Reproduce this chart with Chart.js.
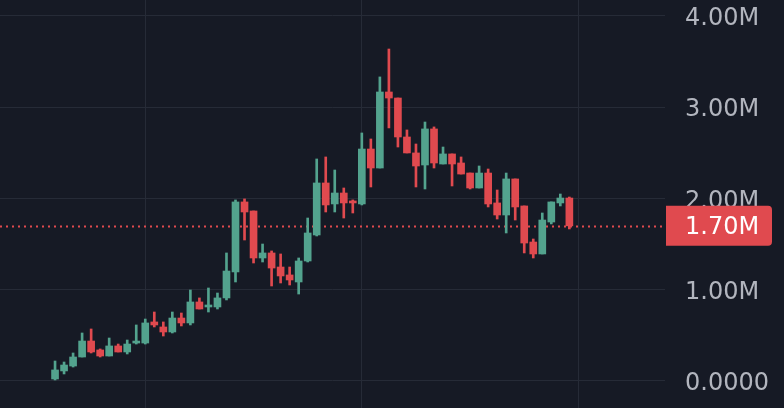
<!DOCTYPE html>
<html>
<head>
<meta charset="utf-8">
<script src="https://cdn.jsdelivr.net/npm/chart.js@4"></script>
<style>
  html, body { margin: 0; padding: 0; background: #161a25; }
  #wrap { width: 784px; height: 408px; }
</style>
</head>
<body>
<div id="wrap"><canvas id="priceChart" width="784" height="408"></canvas></div>
<script>
// OHLC values, in millions
const openData  = [0.022, 0.110, 0.164, 0.263, 0.438, 0.340, 0.274, 0.384, 0.318, 0.416,
                   0.416, 0.647, 0.592, 0.537, 0.690, 0.636, 0.866, 0.811, 0.811, 0.910,
                   1.195, 1.962, 1.863, 1.348, 1.403, 1.249, 1.162, 1.085, 1.315, 1.600,
                   2.170, 1.940, 2.060, 1.973, 1.940, 2.542, 2.334, 3.167, 3.101, 2.674,
                   2.499, 2.367, 2.762, 2.378, 2.488, 2.389, 2.279, 2.115, 2.279, 1.951,
                   1.819, 2.214, 1.918, 1.523, 1.392, 1.742, 1.951, 2.005];
const highData  = [0.219, 0.208, 0.307, 0.526, 0.570, 0.351, 0.471, 0.405, 0.449, 0.614,
                   0.679, 0.756, 0.647, 0.756, 0.745, 0.997, 0.910, 1.019, 0.964, 1.403,
                   1.984, 1.995, 1.863, 1.501, 1.425, 1.392, 1.249, 1.348, 1.786, 2.433,
                   2.455, 2.312, 2.115, 1.984, 2.718, 2.652, 3.332, 3.638, 3.101, 2.751,
                   2.597, 2.838, 2.784, 2.564, 2.488, 2.455, 2.279, 2.356, 2.323, 2.093,
                   2.279, 2.214, 1.918, 1.556, 1.841, 1.962, 2.049, 2.016];
const lowData   = [0.011, 0.077, 0.153, 0.263, 0.307, 0.263, 0.274, 0.318, 0.296, 0.405,
                   0.405, 0.592, 0.493, 0.526, 0.603, 0.614, 0.789, 0.756, 0.789, 0.888,
                   1.085, 1.545, 1.293, 1.304, 1.041, 1.074, 1.052, 0.953, 1.304, 1.589,
                   1.852, 1.852, 1.786, 1.841, 1.929, 2.126, 2.334, 2.773, 2.564, 2.499,
                   2.126, 2.104, 2.334, 2.378, 2.137, 2.268, 2.104, 2.115, 1.907, 1.775,
                   1.622, 1.764, 1.403, 1.348, 1.392, 1.721, 1.918, 1.666];
const closeData = [0.121, 0.175, 0.263, 0.438, 0.318, 0.274, 0.384, 0.318, 0.405, 0.438,
                   0.636, 0.614, 0.537, 0.690, 0.636, 0.866, 0.789, 0.833, 0.910, 1.205,
                   1.962, 1.852, 1.348, 1.403, 1.238, 1.151, 1.107, 1.315, 1.622, 2.170,
                   1.929, 2.060, 1.951, 1.951, 2.542, 2.334, 3.167, 3.101, 2.674, 2.499,
                   2.356, 2.762, 2.389, 2.488, 2.378, 2.268, 2.115, 2.279, 1.940, 1.819,
                   2.214, 1.907, 1.512, 1.392, 1.764, 1.962, 2.005, 1.700];

const lastPrice = 1.70;
const yTicks = [0, 1, 2, 3, 4];
const xGridAt = [11, 35, 59];

const upColor = '#53a38e';
const downColor = '#e04a4f';
const gridColor = '#262b37';
const labelColor = '#b2b5be';

function fmt(v) {
  return v === 0 ? '0.0000' : v.toFixed(2) + 'M';
}

const candleColors = closeData.map((c, i) => c >= openData[i] ? upColor : downColor);
const wicks = highData.map((h, i) => ({ x: i + 1, y: [lowData[i], h] }));
const bodies = openData.map((o, i) => ({
  x: i + 1,
  y: [Math.min(o, closeData[i]), Math.max(o, closeData[i])]
}));

const ctx = document.getElementById('priceChart').getContext('2d');

const priceChart = new Chart(ctx, {
  type: 'bar',
  data: {
    datasets: [
      {
        label: 'wick',
        data: wicks,
        backgroundColor: candleColors,
        barThickness: 2,
        grouped: false,
      },
      {
        label: 'body',
        data: bodies,
        backgroundColor: candleColors,
        barThickness: 7,
        minBarLength: 2,
        grouped: false,
      },
    ],
  },
  options: {
    responsive: false,
    animation: false,
    layout: { padding: 0 },
    scales: {
      x: {
        type: 'linear',
        min: -5.1,
        max: 68.6,
        offset: false,
        afterBuildTicks: (scale) => {
          scale.ticks = xGridAt.map(v => ({ value: v }));
        },
        ticks: { display: false },
        grid: { color: gridColor, drawTicks: false, offset: false },
        border: { display: false },
      },
      y: {
        position: 'right',
        min: -0.296,
        max: 4.175,
        afterBuildTicks: (scale) => {
          scale.ticks = yTicks.map(v => ({ value: v }));
        },
        afterFit: (scale) => {
          // fixed axis width, and no extra room reserved above/below for the labels
          scale.width = 119;
          scale.paddingTop = 0;
          scale.paddingBottom = 0;
        },
        ticks: {
          padding: 20,
          labelOffset: 3,
          color: labelColor,
          font: { family: 'DejaVu Sans', size: 24 },
          callback: (value) => fmt(value),
        },
        grid: { color: gridColor, drawTicks: false },
        border: { display: false },
      },
    },
    plugins: {
      legend: { display: false },
      tooltip: { enabled: false },
    },
  },
  plugins: [
    {
      id: 'background',
      beforeDraw: (chart) => {
        const c = chart.ctx;
        c.save();
        c.fillStyle = '#161a25';
        c.fillRect(0, 0, chart.width, chart.height);
        c.restore();
      }
    },
    {
      id: 'lastPriceLine',
      beforeDatasetsDraw: (chart) => {
        const c = chart.ctx;
        const area = chart.chartArea;
        const y = Math.round(chart.scales.y.getPixelForValue(lastPrice)) + 0.5;
        c.save();
        c.strokeStyle = downColor;
        c.lineWidth = 2;
        c.setLineDash([2, 4]);
        c.beginPath();
        c.moveTo(area.left, y);
        c.lineTo(area.right, y);
        c.stroke();
        c.restore();
      },
      afterDraw: (chart) => {
        const c = chart.ctx;
        const area = chart.chartArea;
        const y = chart.scales.y.getPixelForValue(lastPrice);
        c.save();
        c.fillStyle = downColor;
        c.beginPath();
        c.roundRect(area.right + 1, y - 20, 106, 40, [0, 4, 4, 0]);
        c.fill();
        c.fillStyle = '#ffffff';
        c.font = '24px "DejaVu Sans"';
        c.textAlign = 'left';
        c.textBaseline = 'middle';
        c.fillText(fmt(lastPrice), area.right + 20, y + 2);
        c.restore();
      }
    }
  ]
});
</script>
</body>
</html>
